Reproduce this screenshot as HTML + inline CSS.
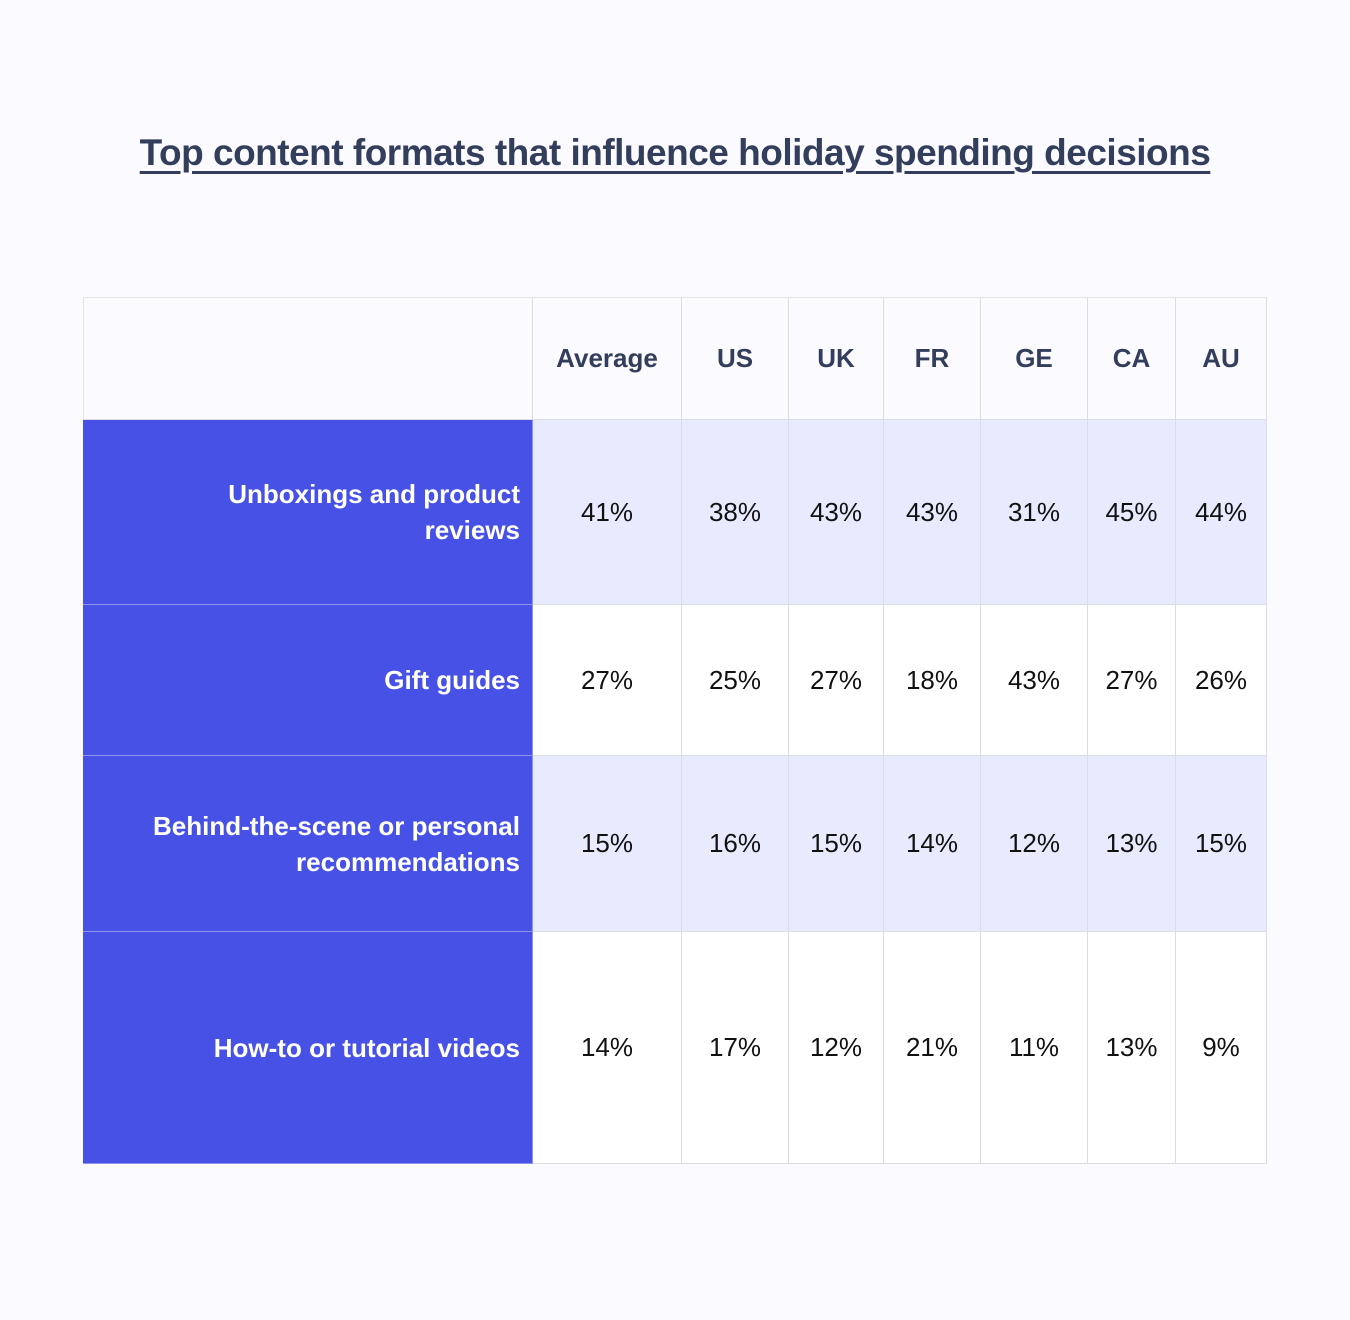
<!DOCTYPE html>
<html><head><meta charset="utf-8"><style>
html,body{margin:0;padding:0;}
body{width:1350px;height:1320px;background:#fbfaff;position:relative;overflow:hidden;font-family:"Liberation Sans",sans-serif;}
#title{position:absolute;left:0;width:1350px;top:132px;text-align:center;font-size:37px;font-weight:bold;color:#323e5c;text-decoration:underline;text-decoration-thickness:3px;text-underline-offset:6px;letter-spacing:-0.5px;}
.cell{position:absolute;box-sizing:border-box;display:flex;align-items:center;justify-content:center;font-size:26px;color:#111;border-right:1px solid #dcdce4;border-bottom:1px solid #dcdce4;}
.hdr{font-weight:bold;color:#323e5c;}
.lab{background:#4751e6;color:#fff;font-weight:bold;justify-content:flex-end;text-align:right;padding-right:12px;border-color:#8e94ee;line-height:36px;}
</style></head><body>
<div id="title">Top content formats that influence holiday spending decisions</div>
<div id="tbl"></div>
<script>
const columns=["Average","US","UK","FR","GE","CA","AU"];
const rowLabels=["Unboxings and product<br>reviews","Gift guides","Behind-the-scene or personal<br>recommendations","How-to or tutorial videos"];
const row1=[41,38,43,43,31,45,44];
const row2=[27,25,27,18,43,27,26];
const row3=[15,16,15,14,12,13,15];
const row4=[14,17,12,21,11,13,9];
const values=[row1,row2,row3,row4];
const colX=[83,533,682,789,884,981,1088,1176,1267];
const rowY=[297,420,605,756,932,1164];
const tbl=document.getElementById('tbl');
function mk(x,y,w,h,cls,html){const d=document.createElement('div');d.className='cell '+cls;d.style.left=x+'px';d.style.top=y+'px';d.style.width=w+'px';d.style.height=h+'px';d.innerHTML=html;tbl.appendChild(d);return d;}
const corner=mk(colX[0],rowY[0],colX[1]-colX[0],rowY[1]-rowY[0],'hdr','');
corner.style.borderLeft='1px solid #e4e4ec';corner.style.borderTop='1px solid #e4e4ec';


columns.forEach((c,i)=>{
  const d=mk(colX[i+1],rowY[0],colX[i+2]-colX[i+1],rowY[1]-rowY[0],'hdr',c);
  d.style.borderTop='1px solid #e4e4ec';
  
  
});
rowLabels.forEach((r,j)=>{
  const y=rowY[j+1],h=rowY[j+2]-y;
  const l=mk(colX[0],y,colX[1]-colX[0],h,'lab',r);
  
  
  values[j].forEach((v,i)=>{
    const d=mk(colX[i+1],y,colX[i+2]-colX[i+1],h,'',v+'%');
    d.style.background=(j%2===0)?'#e8eafd':'#ffffff';
    
    
  });
});
</script>
</body></html>
